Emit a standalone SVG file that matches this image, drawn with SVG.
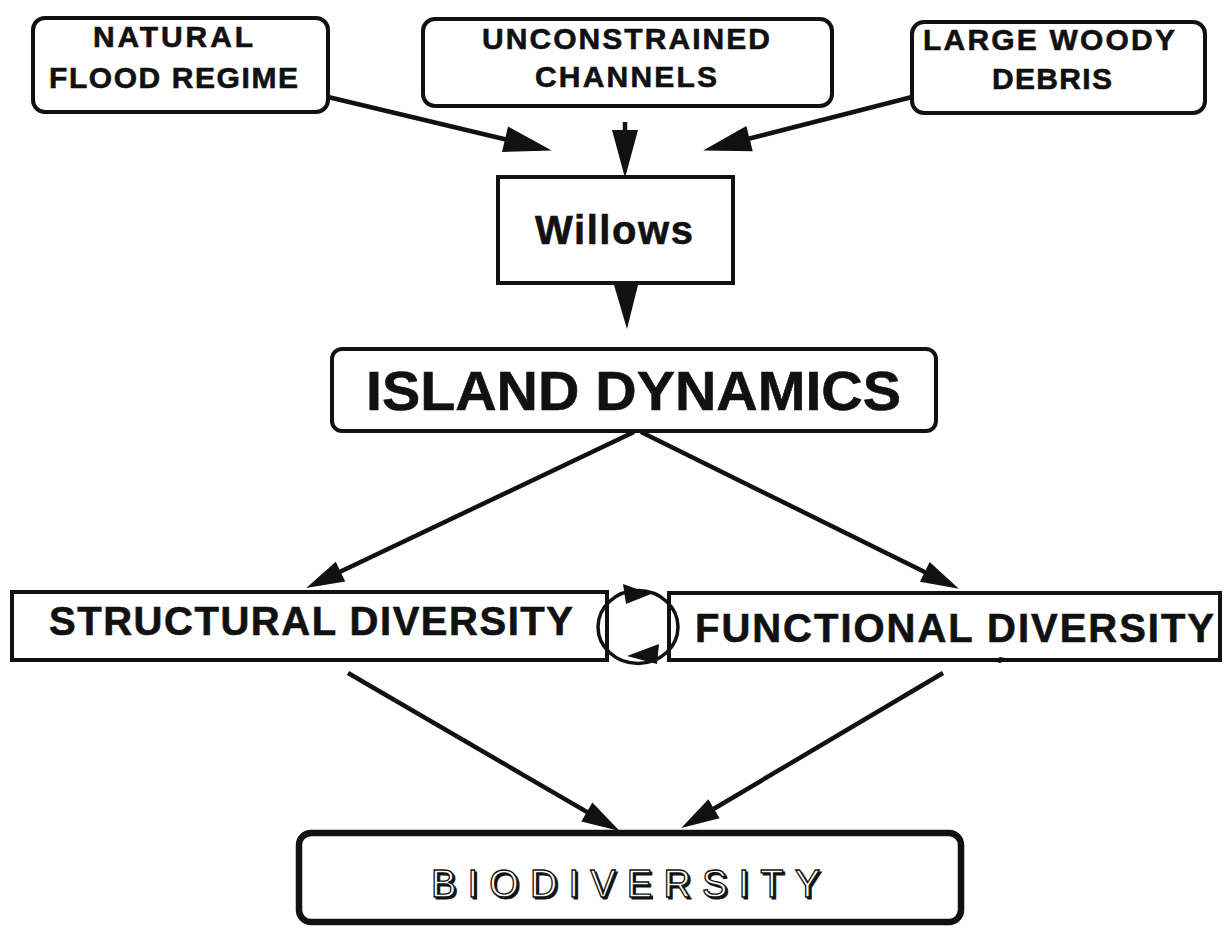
<svg xmlns="http://www.w3.org/2000/svg" width="1224" height="929" viewBox="0 0 1224 929">
<style>
.box{fill:#fff;stroke:#111;stroke-width:4}
.t{font-family:"Liberation Sans",Arial,Helvetica,sans-serif;font-weight:bold;fill:#111;stroke:#111;stroke-width:0.6;text-anchor:middle}
.c{fill:none;stroke:#111;stroke-width:4.5;stroke-linecap:butt}
.h{fill:#111;stroke:none}
.bio{font-family:"Liberation Sans",Arial,Helvetica,sans-serif;font-weight:normal;font-size:38px;text-anchor:middle}
</style>
<defs>
<marker id="big" markerUnits="userSpaceOnUse" markerWidth="50" markerHeight="26" refX="1" refY="13" orient="auto" overflow="visible">
<path d="M0,0 L48,13 L0,26 Z" fill="#111"/>
</marker>
<marker id="med" markerUnits="userSpaceOnUse" markerWidth="40" markerHeight="22" refX="1" refY="11" orient="auto" overflow="visible">
<path d="M0,0 L38,11 L0,22 Z" fill="#111"/>
</marker>
</defs>
<rect width="1224" height="929" fill="#fff"/>

<g id="natural-flood-regime">
<rect class="box" x="33" y="18" width="295" height="94" rx="12"/>
<text class="t" x="173" y="47" font-size="30" textLength="160" lengthAdjust="spacing">NATURAL</text>
<text class="t" x="173.5" y="88" font-size="30" textLength="249" lengthAdjust="spacing">FLOOD REGIME</text>
</g>

<g id="unconstrained-channels">
<rect class="box" x="423" y="19" width="409" height="87" rx="12"/>
<text class="t" x="626" y="49" font-size="30" textLength="288" lengthAdjust="spacing">UNCONSTRAINED</text>
<text class="t" x="626" y="87" font-size="30" textLength="182" lengthAdjust="spacing">CHANNELS</text>
</g>

<g id="large-woody-debris">
<rect class="box" x="912" y="22" width="293" height="91" rx="12"/>
<text class="t" x="1049" y="50" font-size="30" textLength="252" lengthAdjust="spacing">LARGE WOODY</text>
<text class="t" x="1052" y="89" font-size="30" textLength="120" lengthAdjust="spacing">DEBRIS</text>
</g>

<g id="willows">
<rect class="box" x="498" y="177" width="235" height="106"/>
<text class="t" x="614" y="244" font-size="40" textLength="158" lengthAdjust="spacing">Willows</text>
</g>

<g id="island-dynamics">
<rect class="box" x="332" y="349" width="604" height="82" rx="10"/>
<text class="t" x="633.5" y="410" font-size="56" textLength="535" lengthAdjust="spacingAndGlyphs">ISLAND DYNAMICS</text>
</g>

<g id="structural-diversity">
<rect class="box" x="12" y="592" width="595" height="68"/>
<text class="t" x="311" y="635" font-size="40" textLength="524" lengthAdjust="spacing">STRUCTURAL DIVERSITY</text>
</g>

<g id="functional-diversity">
<rect class="box" x="669" y="593" width="551" height="67"/>
<text class="t" x="954.5" y="642" font-size="40" textLength="519" lengthAdjust="spacing">FUNCTIONAL DIVERSITY</text>
</g>

<g id="biodiversity">
<rect x="299" y="833" width="662" height="89" rx="12" fill="#fff" stroke="#111" stroke-width="6.5"/>
<text class="bio" x="627.5" y="899" fill="#111" stroke="#111" stroke-width="1" textLength="389" lengthAdjust="spacing">BIODIVERSITY</text>
<text class="bio" x="625.5" y="897" fill="#fff" stroke="#111" stroke-width="1.3" textLength="389" lengthAdjust="spacing">BIODIVERSITY</text>
</g>

<g id="connectors">
<line class="c" x1="328" y1="97" x2="506" y2="139.5" marker-end="url(#big)"/>
<line class="c" x1="625" y1="122" x2="625" y2="131" marker-end="url(#big)"/>
<line class="c" x1="912" y1="97" x2="748.6" y2="138.8" marker-end="url(#big)"/>
<polygon class="h" points="614,285 638,285 627,329"/>
<line class="c" x1="634" y1="432" x2="339.6" y2="572" marker-end="url(#med)"/>
<line class="c" x1="641" y1="432" x2="925.7" y2="572.4" marker-end="url(#med)"/>
<line class="c" x1="348" y1="673" x2="587.7" y2="812.4" marker-end="url(#med)"/>
<line class="c" x1="943" y1="673" x2="713.1" y2="809.2" marker-end="url(#med)"/>
<g id="feedback-loop">
<ellipse cx="638" cy="627" rx="40" ry="36.5" fill="none" stroke="#111" stroke-width="3.5"/>
<polygon class="h" points="623,584 651,594 626,604"/>
<polygon class="h" points="627,656 659,644 657,664"/>
</g>
<path class="h" d="M992,661 L1000,657 L1010,659 L1000,663 Z"/>
</g>
</svg>
